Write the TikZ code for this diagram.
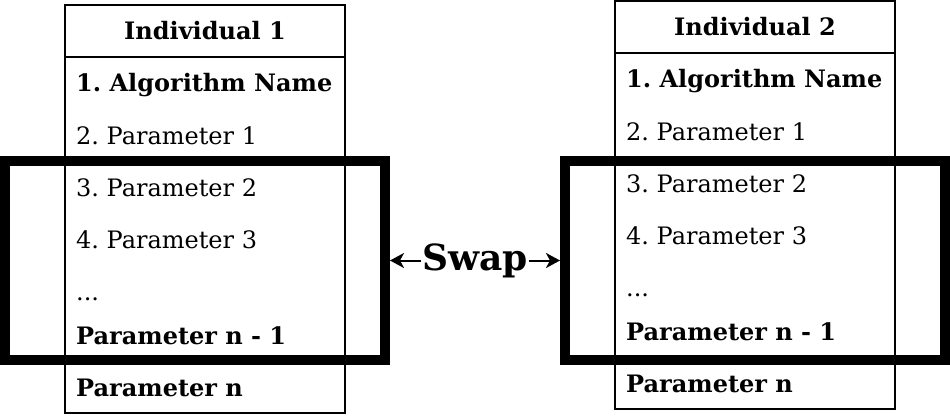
\documentclass[tikz,border=0pt]{standalone}
\usepackage{fontspec}
\setmainfont{DejaVu Serif}
\usetikzlibrary{arrows.meta}
\frenchspacing
\begin{document}
\begin{tikzpicture}[x=1pt,y=-1pt,
  boxline/.style={draw=black,line width=2pt,inner sep=0pt,outer sep=0pt},
  headbox/.style={boxline,minimum width=280pt,minimum height=52pt,anchor=north west,font=\fontsize{24}{29}\selectfont\bfseries},
  listbox/.style={boxline,minimum width=280pt,anchor=north west},
  item/.style={anchor=base west,inner sep=0pt,font=\fontsize{24}{29}\selectfont},
  bolditem/.style={item,font=\fontsize{24}{29}\selectfont\bfseries},
  swapbox/.style={draw=black,line width=10pt,minimum width=380pt,minimum height=199pt,inner sep=0pt},
  swaparrow/.style={line width=2pt,{Stealth[length=14pt,width=15pt,inset=4pt]}-{Stealth[length=14pt,width=15pt,inset=4pt]}},
  swaplabel/.style={fill=white,inner sep=1.5pt,font=\fontsize{36}{42}\selectfont\bfseries}
]
\useasboundingbox (0,0) rectangle (950,420);
% Individual 1
\node[listbox,minimum height=408pt] (list1) at (65,5) {};
\node[headbox] (head1) at (65,5) {Individual 1};
\node[bolditem] (a1) at (76,92) {1. Algorithm Name};
\node[item] (b1) at (76,144) {2. Parameter 1};
\node[item] (c1) at (76,196) {3. Parameter 2};
\node[item] (d1) at (76,248) {4. Parameter 3};
\node[item] (e1) at (76,300) {...};
\node[bolditem] (f1) at (76,344) {Parameter n - 1};
\node[bolditem] (g1) at (76,396) {Parameter n};
% Individual 2
\node[listbox,minimum height=408pt] (list2) at (615,1) {};
\node[headbox] (head2) at (615,1) {Individual 2};
\node[bolditem] (a2) at (626,88) {1. Algorithm Name};
\node[item] (b2) at (626,140) {2. Parameter 1};
\node[item] (c2) at (626,192) {3. Parameter 2};
\node[item] (d2) at (626,244) {4. Parameter 3};
\node[item] (e2) at (626,296) {...};
\node[bolditem] (f2) at (626,340) {Parameter n - 1};
\node[bolditem] (g2) at (626,392) {Parameter n};
% swap frames
\node[swapbox] (sw1) at (195,260.5) {};
\node[swapbox] (sw2) at (755,260.5) {};
\draw[swaparrow] (sw1.east) -- (sw2.west) node[midway,swaplabel] (swap) {Swap};
\end{tikzpicture}
\end{document}
